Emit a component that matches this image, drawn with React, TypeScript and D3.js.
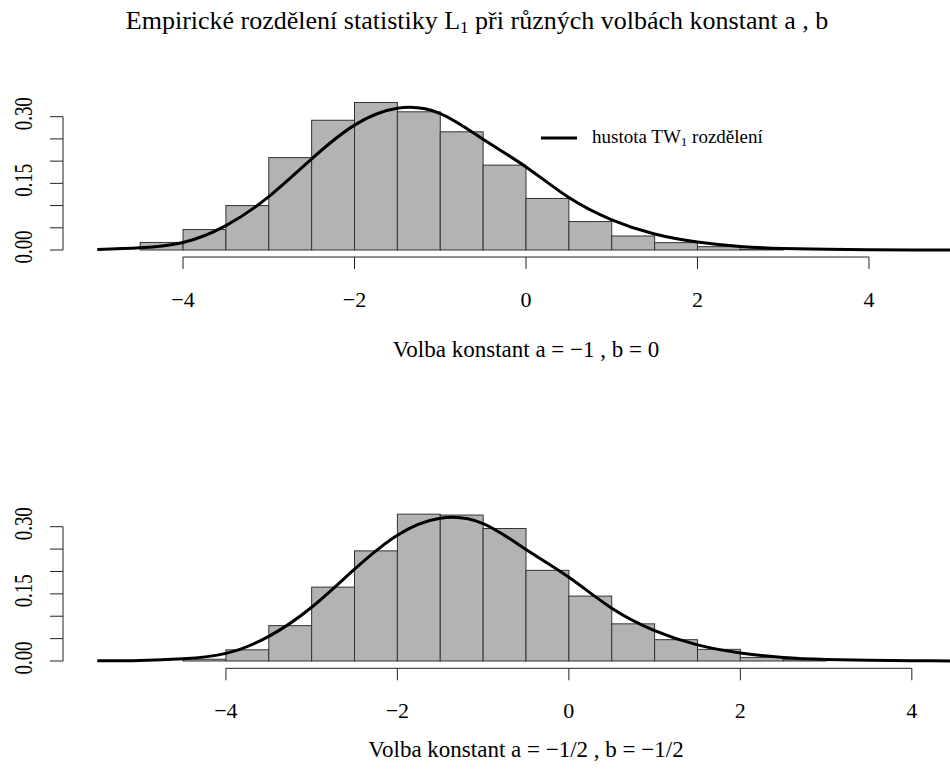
import React from "react";
import * as d3 from "d3";

// ---- data ----
const binWidth = 0.5;
const topBinStarts = [-4.5, -4, -3.5, -3, -2.5, -2, -1.5, -1, -0.5, 0, 0.5, 1, 1.5, 2, 2.5];
const topDensity = [0.017, 0.046, 0.1, 0.208, 0.292, 0.332, 0.311, 0.266, 0.191, 0.116, 0.064, 0.0315, 0.0165, 0.0075, 0.002];
const bottomBinStarts = [-4.5, -4, -3.5, -3, -2.5, -2, -1.5, -1, -0.5, 0, 0.5, 1, 1.5, 2, 2.5];
const bottomDensity = [0.004, 0.025, 0.079, 0.165, 0.246, 0.328, 0.326, 0.296, 0.2025, 0.145, 0.083, 0.0476, 0.026, 0.008, 0.003];

const curveX = [-5.5, -5, -4.5, -4, -3.5, -3, -2.5, -2, -1.5, -1, -0.5, 0, 0.5, 1, 1.5, 2, 2.5, 3, 3.5, 4, 4.5, 5];
const curveY = [0.0003, 0.0012, 0.005, 0.017, 0.055, 0.12, 0.205, 0.281, 0.319, 0.307, 0.249, 0.187, 0.118, 0.068, 0.036, 0.018, 0.008, 0.0035, 0.0015, 0.0006, 0.0002, 0.0001];

const xTicks = [-4, -2, 0, 2, 4];
const yTicks = [0, 0.05, 0.1, 0.15, 0.2, 0.25, 0.3];
const yLabels = [0, 0.15, 0.3];

const FONT = "'Liberation Serif', 'Times New Roman', serif";

type PanelProps = {
  xDomain: [number, number];
  yZero: number;
  yTop: number;
  axisY: number;
  binStarts: number[];
  density: number[];
  curveRange: [number, number];
  label: React.ReactNode;
  labelY: number;
};

function Panel(p: PanelProps) {
  const x = d3.scaleLinear().domain(p.xDomain).range([63, 989]);
  const y = d3.scaleLinear().domain([0, 0.3]).range([p.yZero, p.yTop]);
  const pts = curveX
    .map((v, i) => [v, curveY[i]] as [number, number])
    .filter((d) => d[0] >= p.curveRange[0] - 1e-9 && d[0] <= p.curveRange[1] + 1e-9);
  const line = d3
    .line<[number, number]>()
    .x((d) => x(d[0]))
    .y((d) => y(d[1]))
    .curve(d3.curveNatural);
  const center = (63 + 989) / 2;
  return (
    <g>
      {p.binStarts.map((b, i) => (
        <rect
          key={i}
          x={x(b)}
          y={y(p.density[i])}
          width={x(b + binWidth) - x(b)}
          height={y(0) - y(p.density[i])}
          fill="#b3b3b3"
          stroke="#333"
          strokeWidth={1}
        />
      ))}
      <path d={line(pts) || ""} fill="none" stroke="#000" strokeWidth={3} />
      {/* x axis */}
      <line x1={x(-4)} x2={x(4)} y1={p.axisY} y2={p.axisY} stroke="#222" strokeWidth={1} />
      {xTicks.map((t) => (
        <g key={t}>
          <line x1={x(t)} x2={x(t)} y1={p.axisY} y2={p.axisY + 12} stroke="#222" strokeWidth={1} />
          <text
            x={x(t)}
            y={p.axisY + 50}
            textAnchor="middle"
            fontFamily={FONT}
            fontSize={22}
            fill="#000"
          >
            {t < 0 ? "\u2212" + Math.abs(t) : String(t)}
          </text>
        </g>
      ))}
      {/* y axis */}
      <line x1={63} x2={63} y1={y(0)} y2={y(0.3)} stroke="#222" strokeWidth={1} />
      {yTicks.map((t) => (
        <line key={t} x1={50} x2={63} y1={y(t)} y2={y(t)} stroke="#222" strokeWidth={1} />
      ))}
      {yLabels.map((t) => (
        <text
          key={t}
          transform={`translate(31.5,${y(t) - 3}) rotate(-90)`}
          textAnchor="middle"
          fontFamily={FONT}
          fontSize={25}
          textLength={33}
          lengthAdjust="spacingAndGlyphs"
          fill="#000"
        >
          {t.toFixed(2)}
        </text>
      ))}
      <text x={center} y={p.labelY} textAnchor="middle" fontFamily={FONT} fontSize={23} fill="#000">
        {p.label}
      </text>
    </g>
  );
}

export default function App() {
  return (
    <svg width={950} height={773} style={{ position: "absolute", left: 0, top: 0, background: "#fff" }}>
      <rect width={950} height={773} fill="#fff" />
      <text x={477} y={29} textAnchor="middle" fontFamily={FONT} fontSize={26} fill="#000">
        Empirické rozdělení statistiky L
        <tspan fontSize={17} dy={4}>1</tspan>
        <tspan dy={-4}> při různých volbách konstant a , b</tspan>
      </text>
      <Panel
        xDomain={[-5.4, 5.4]}
        yZero={250}
        yTop={116.7}
        axisY={257}
        binStarts={topBinStarts}
        density={topDensity}
        curveRange={[-5, 5]}
        label={"Volba konstant a = \u22121 , b = 0"}
        labelY={357}
      />
      <Panel
        xDomain={[-5.9, 4.9]}
        yZero={661}
        yTop={526.7}
        axisY={668.3}
        binStarts={bottomBinStarts}
        density={bottomDensity}
        curveRange={[-5.5, 4.5]}
        label={"Volba konstant a = \u22121/2 , b = \u22121/2"}
        labelY={757}
      />
      {/* legend */}
      <line x1={541} x2={577} y1={138} y2={138} stroke="#000" strokeWidth={3} />
      <text x={592} y={143} fontFamily={FONT} fontSize={19} fill="#000">
        hustota TW
        <tspan fontSize={13} dy={3}>1</tspan>
        <tspan dy={-3}> rozdělení</tspan>
      </text>
    </svg>
  );
}
